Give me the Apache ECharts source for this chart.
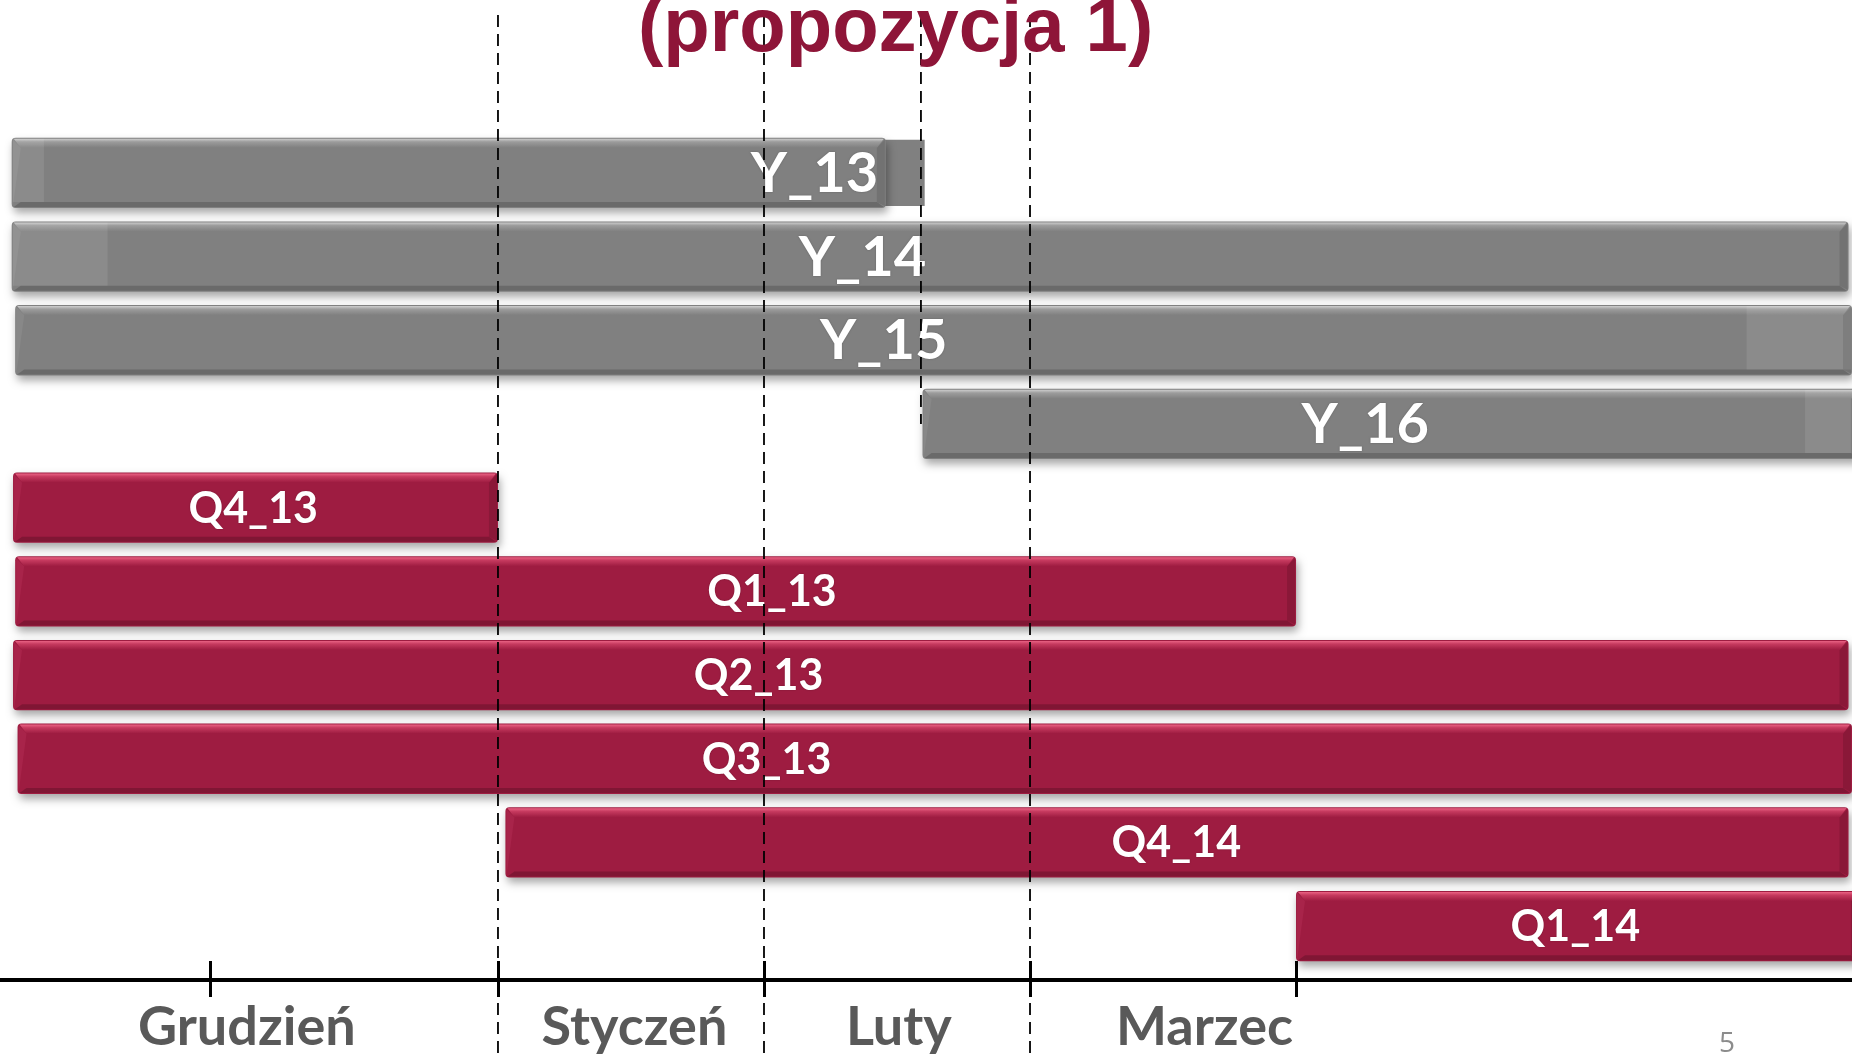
<!DOCTYPE html>
<html><head><meta charset="utf-8">
<script src="https://cdn.jsdelivr.net/npm/echarts@6/dist/echarts.min.js"></script>
<style>html,body{margin:0;padding:0;background:#fff;overflow:hidden}#c{width:1852px;height:1055px}</style>
</head><body><div id="c"></div>
<script>
// ---- data (x unit = months; 1 = start of January, 2 = February, 3 = March, 4 = April) ----
const rows    = ['Y_13','Y_14','Y_15','Y_16','Q4_13','Q1_13','Q2_13','Q3_13','Q4_14','Q1_14'];
const starts  = [-0.828,-0.828,-0.815, 2.596,-0.823,-0.815,-0.823,-0.806, 1.028, 4.0];
const ends    = [ 2.458, 6.077, 6.09,  6.12,  1.0,   4.0,   6.077, 6.09,  6.077, 6.12];
const labelAt = [ 2.19,  2.37,  2.45,  4.26,  0.08,  2.03,  1.98,  2.01,  3.55,  5.05];
const kinds   = ['gray','gray','gray','gray','red','red','red','red','red','red'];
// extra shapes: [row, start, end]
const flatRows   = ['Y_13'];
const flatStarts = [2.45];
const flatEnds   = [2.604];
const lightRows   = ['Y_13','Y_14','Y_15','Y_16'];
const lightStarts = [-0.828,-0.828, 5.69, 5.91];
const lightEnds   = [-0.703,-0.464, 6.09, 6.12];
// guides (dashed verticals)
const guideX   = [1, 2, 3, 2.59];
const guideEnd = [null, null, null, 'Y_16'];
// axis
const tickValues   = [-0.08, 1, 2, 3, 4];
const monthLabels  = ['Grudzień','Styczeń','Luty','Marzec'];
const monthLabelAt = [0.056, 1.513, 2.507, 3.656];
const titleText = '(propozycja 1)';
const pageNo = '5';

const PAL = {
  red:  {base:'#9E1C41', hi:'#EA6384', mid:'#C63A5F', left:'#A8244A', dark:'#7A1532', font:'bold 43px Lato'},
  gray: {base:'#808080', hi:'#CDCDCD', mid:'#9C9C9C', left:'#888888', dark:'#666666', font:'bold 56px Lato'}
};
const BAR_RATIO = 0.84;

function barGeom(api, s, e, row, ratio) {
  const a = api.coord([s, row]);
  const b = api.coord([e, row]);
  const h = api.size([0, 1])[1] * ratio;
  return {x: a[0], y: a[1] - h / 2, w: b[0] - a[0], h: h, cy: a[1]};
}

function renderBar(params, api) {
  const i = params.dataIndex;
  const row = api.value(0);
  const g = barGeom(api, api.value(1), api.value(2), row, BAR_RATIO);
  const p = PAL[kinds[i]];
  const x = g.x, y = g.y, w = g.w, h = g.h, bt = 10, bb = 6, bl = 9;
  const lp = api.coord([labelAt[i], row]);
  return {
    type: 'group',
    children: [
      {type:'rect', shape:{x:x, y:y, width:w, height:h, r:4},
       style:{fill:p.base, shadowBlur:8, shadowOffsetX:2, shadowOffsetY:5, shadowColor:'rgba(0,0,0,0.35)'}},
      {type:'polygon', shape:{points:[[x+bl,y+bt],[x+1,y+h-1],[x+1,y+2],[x+bl,y+bt]]},
       style:{fill:p.left}},
      {type:'polygon', shape:{points:[[x+2,y+h-1],[x+bl,y+h-bb],[x+w-bl,y+h-bb],[x+w-2,y+h-1]]},
       style:{fill:p.dark, opacity:0.85}},
      {type:'polygon', shape:{points:[[x+w-1,y+2],[x+w-bl,y+bt],[x+w-bl,y+h-bb],[x+w-1,y+h-2]]},
       style:{fill:p.dark, opacity:0.55}},
      {type:'polygon', shape:{points:[[x+2,y+1],[x+w-2,y+1],[x+w-bl,y+bt],[x+bl,y+bt]]},
       style:{fill:{type:'linear', x:0, y:0, x2:0, y2:1, colorStops:[
         {offset:0, color:p.hi},{offset:0.35, color:p.mid},{offset:1, color:p.base}]}}},
      {type:'text', style:{text: rows[i], x: lp[0], y: lp[1] + 1, fill:'#ffffff', font: p.font,
        align:'center', verticalAlign:'middle', textShadowColor:'rgba(0,0,0,0.25)', textShadowBlur:2}}
    ]
  };
}

function renderFlat(params, api) {
  const g = barGeom(api, api.value(1), api.value(2), api.value(0), BAR_RATIO * 0.94);
  return {type:'rect', shape:{x:g.x, y:g.y, width:g.w, height:g.h}, style:{fill:'#808080'}};
}
function renderLight(params, api) {
  const g = barGeom(api, api.value(1), api.value(2), api.value(0), BAR_RATIO);
  return {type:'rect', shape:{x:g.x + 1, y:g.y + 1, width:g.w - 2, height:g.h - 7},
          style:{fill:'rgba(255,255,255,0.09)'}};
}
function renderGuide(params, api) {
  const i = params.dataIndex;
  const px = api.coord([api.value(0), 0])[0];
  let y2 = 1060;
  if (guideEnd[i] !== null) {
    y2 = api.coord([api.value(0), rows.indexOf(guideEnd[i])])[1];
  }
  return {type:'line', shape:{x1:px, y1:15, x2:px, y2:y2},
          style:{stroke:'#000', lineWidth:1.8, lineDash:[12, 7]}};
}

const barData = rows.map((r, i) => [i, starts[i], ends[i]]);
const flatData = flatRows.map((r, i) => [rows.indexOf(r), flatStarts[i], flatEnds[i]]);
const lightData = lightRows.map((r, i) => [rows.indexOf(r), lightStarts[i], lightEnds[i]]);
const guideData = guideX.map((v) => [v, 0]);

const XMIN = -0.872, XMAX = 6.09;
const chart = echarts.init(document.getElementById('c'), null, {renderer:'canvas'});
chart.setOption({
  animation: false,
  backgroundColor: '#ffffff',
  grid: {left: 0, right: 0, top: 131, bottom: 85, containLabel: false},
  xAxis: [{
    type: 'value', min: XMIN, max: XMAX, position: 'bottom', offset: 12,
    splitLine: {show: false},
    axisLine: {show: true, lineStyle: {color: '#000', width: 4}},
    axisTick: {show: true, customValues: tickValues, length: 17, lineStyle: {color: '#000', width: 3}},
    axisLabel: {show: true, customValues: monthLabelAt, margin: 21,
      formatter: (v) => { const k = monthLabelAt.findIndex(m => Math.abs(m - v) < 1e-6); return k >= 0 ? monthLabels[k] : ''; },
      color: '#595959', fontFamily: 'Lato', fontWeight: 'bold', fontSize: 54}
  }, {
    type: 'value', min: XMIN, max: XMAX, position: 'bottom', offset: 12,
    splitLine: {show: false}, axisLine: {show: false},
    axisTick: {show: true, inside: true, customValues: tickValues, length: 19, lineStyle: {color: '#000', width: 3}},
    axisLabel: {show: false}
  }],
  yAxis: {type: 'category', data: rows, inverse: true, show: false},
  series: [
    {type:'custom', name:'flat', renderItem: renderFlat, data: flatData, encode:{x:[1,2], y:0}, clip:false, z:1},
    {type:'custom', name:'bars', renderItem: renderBar, data: barData, encode:{x:[1,2], y:0}, clip:false, z:2},
    {type:'custom', name:'light', renderItem: renderLight, data: lightData, encode:{x:[1,2], y:0}, clip:false, z:3},
    {type:'custom', name:'guides', renderItem: renderGuide, data: guideData, encode:{x:0}, clip:false, z:4}
  ],
  graphic: [
    {type:'text', left: 638, top: -8, z: 10,
     style:{text: titleText, font:'bold 76px "Liberation Sans"', fill:'#8E1538'}},
    {type:'text', left: 1719, top: 1030, z: 10,
     style:{text: pageNo, font:'28px "Open Sans"', fill:'#8C8C8C'}}
  ]
});
</script>
</body></html>
